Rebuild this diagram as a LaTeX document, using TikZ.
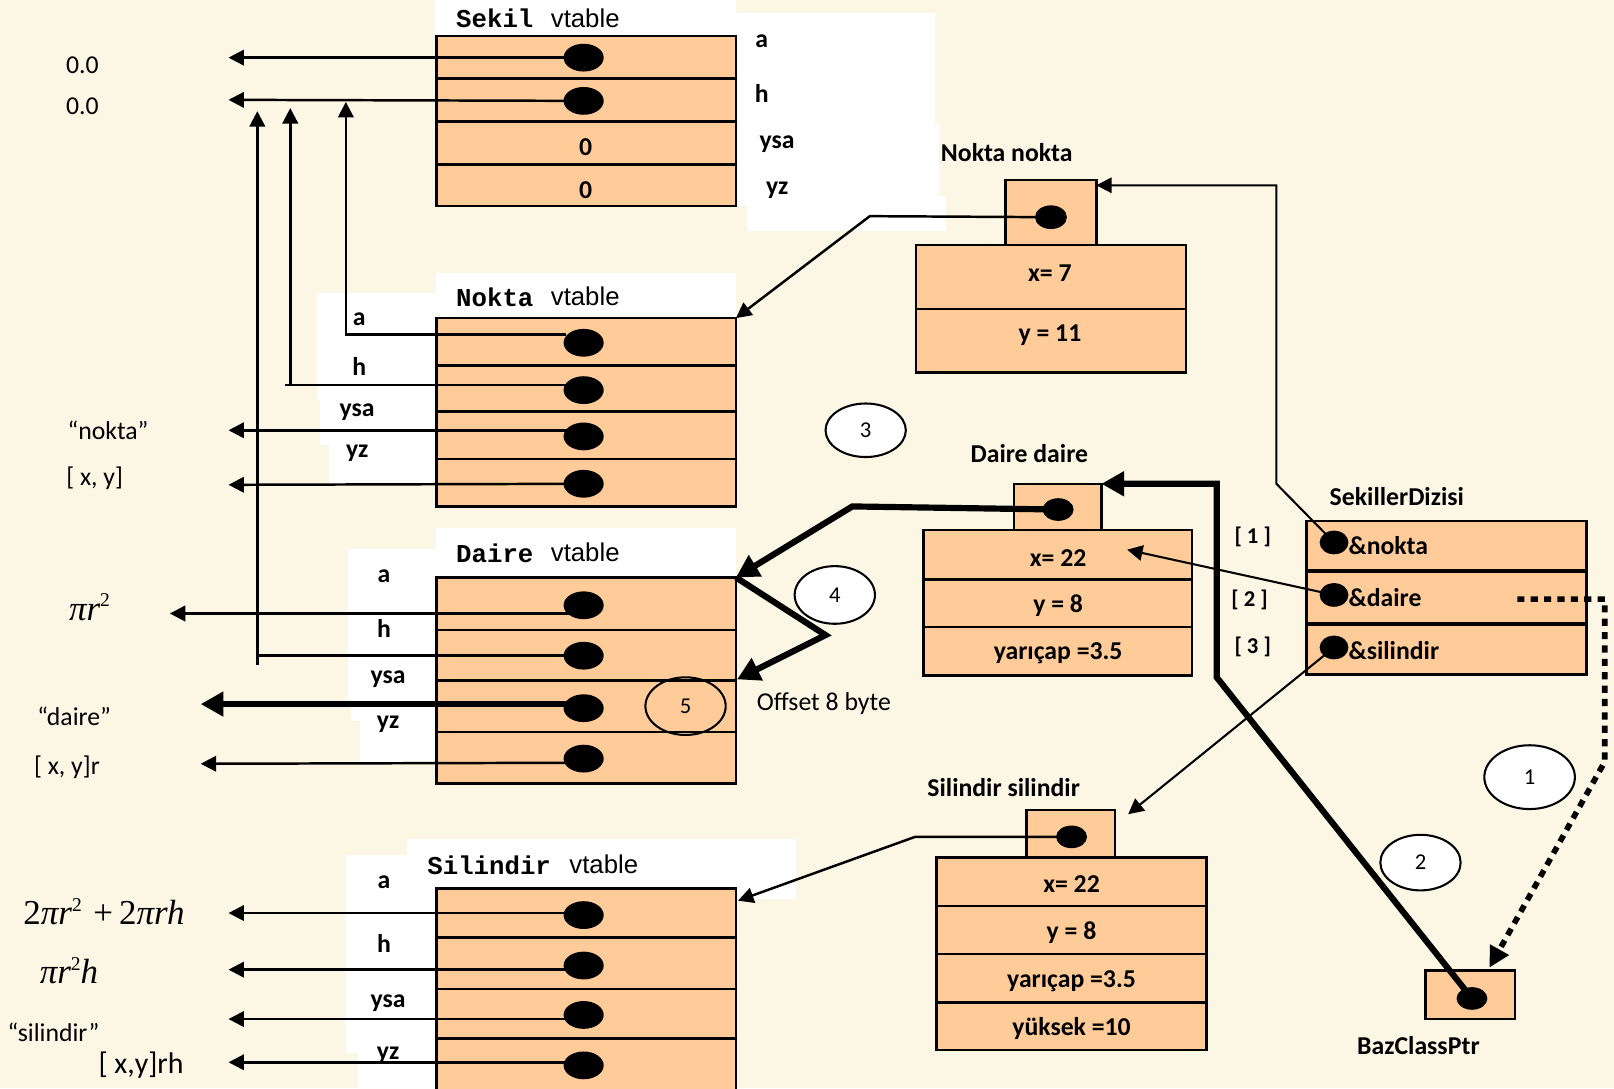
\documentclass[tikz,border=0pt]{standalone}
\usepackage{fontspec}
\setmainfont{Carlito}
\newfontfamily\courf{Liberation Mono}
\newfontfamily\arialf{Liberation Sans}
\newfontfamily\timesf{Liberation Serif}
\usetikzlibrary{arrows.meta,shapes.geometric}
\definecolor{cream}{RGB}{252,246,228}
\definecolor{peach}{RGB}{255,204,153}
\newcommand\sqtwo{\raisebox{13pt}{\fontsize{19}{19}\selectfont\upshape 2}}
\tikzset{
  vbox/.style={draw, line width=2.5pt, fill=peach, inner sep=0pt, outer sep=0pt, anchor=north west},
  sepl/.style={line width=2.5pt},
  sepk/.style={line width=4pt},
  bdot/.style={ellipse, fill=black, inner sep=0pt, minimum width=39pt, minimum height=27pt},
  sdot/.style={ellipse, fill=black, inner sep=0pt, minimum width=31pt, minimum height=23pt},
  ln/.style={line width=2.4pt},
  ar/.style={line width=2.4pt, -{Triangle[length=15pt,width=15pt]}},
  thk/.style={line width=6pt, -{Triangle[length=22pt,width=23pt]}},
  dotl/.style={line width=5.5pt, dash pattern=on 7pt off 6pt, -{Triangle[length=20pt,width=20pt]}},
  lab/.style={font=\fontsize{25}{28}\selectfont\bfseries, inner sep=0pt},
  txt/.style={font=\fontsize{25}{30}\selectfont, inner sep=0pt},
  mth/.style={font=\fontsize{34}{40}\selectfont\timesf\itshape, inner sep=0pt},
  cour/.style={font=\fontsize{25}{30}\selectfont\courf\bfseries, inner sep=0pt, anchor=west},
  vtl/.style={font=\fontsize{25}{30}\selectfont\arialf, inner sep=0pt, anchor=west},
  num/.style={ellipse, draw, line width=2pt, fill=white, font=\fontsize{22}{26}\selectfont, inner sep=0pt},
}
\begin{document}
\begin{tikzpicture}[x=1pt,y=-1pt]
\useasboundingbox (0,0) rectangle (1568,1057);
\fill[cream] (0,0) rectangle (1568,1057);
% white text-box backgrounds
\fill[white] (423,0) rectangle (715,36);
\fill[white] (715,13) rectangle (908,200);
\fill[white] (715,120) rectangle (912,200);
\fill[white] (726,190) rectangle (919,224);
\fill[white] (424,265) rectangle (715,309);
\fill[white] (308,285) rectangle (424,388);
\fill[white] (311,388) rectangle (424,432);
\fill[white] (320,432) rectangle (424,470);
\fill[white] (424,513) rectangle (715,562);
\fill[white] (338,533) rectangle (424,680);
\fill[white] (341,680) rectangle (424,700);
\fill[white] (350,700) rectangle (424,740);
\fill[white] (395,815) rectangle (773,873);
\fill[white] (336,831) rectangle (424,1023);
\fill[white] (348,1023) rectangle (424,1057);

% vtables
\node[vbox, minimum width=291pt, minimum height=165pt] (sekil) at (424,35) {};
\draw[sepl] (424,76) -- (715,76) (424,118) -- (715,118) (424,160) -- (715,160);
\node[vbox, minimum width=291pt, minimum height=183pt] (nokta) at (424,309) {};
\draw[sepl] (424,355) -- (715,355) (424,400) -- (715,400) (424,446) -- (715,446);
\node[vbox, minimum width=291pt, minimum height=200pt] (daire) at (424,561) {};
\draw[sepl] (424,612) -- (715,612) (424,661) -- (715,661) (424,711) -- (715,711);
\node[vbox, minimum width=291pt, minimum height=205pt] (silv) at (424,863) {};
\draw[sepl] (424,911) -- (715,911) (424,961) -- (715,961) (424,1009) -- (715,1009);

% objects
\node[vbox, minimum width=88pt, minimum height=63pt] (nn) at (977,175) {};
\node[vbox, minimum width=262pt, minimum height=124pt] (nnb) at (890,238) {};
\draw[sepl] (890,300) -- (1152,300);
\node[vbox, minimum width=85pt, minimum height=45pt] (dd) at (985,470) {};
\node[vbox, minimum width=261pt, minimum height=141pt] (ddb) at (897,515) {};
\draw[sepl] (897,563) -- (1158,563) (897,609) -- (1158,609);
\node[vbox, minimum width=86pt, minimum height=46pt] (ss) at (997,787) {};
\node[vbox, minimum width=262pt, minimum height=187pt] (ssb) at (910,833) {};
\draw[sepl] (910,880) -- (1172,880) (910,927) -- (1172,927) (910,974) -- (1172,974);
\node[vbox, minimum width=272pt, minimum height=149pt] (sdz) at (1269,506) {};
\draw[sepk] (1269,555) -- (1541,555) (1269,606) -- (1541,606);
\node[vbox, minimum width=87pt, minimum height=47pt] (bcp) at (1385,943) {};

% texts in white areas
\node[cour] (t1) at (443,18) {Sekil};
\node[vtl] (t2) at (535,18) {vtable};
\node[cour] (t3) at (443,289) {Nokta};
\node[vtl] (t4) at (535,288) {vtable};
\node[cour] (t5) at (443,538) {Daire};
\node[vtl] (t6) at (535,537) {vtable};
\node[cour] (t7) at (415,841) {Silindir};
\node[vtl] (t8) at (553,840) {vtable};

\node[lab] (ra) at (740,40) {a};
\node[lab] (rh) at (740,91) {h};
\node[lab] (rysa) at (755,140) {ysa};
\node[lab] (ryz) at (755,185) {yz};
\node[lab] (z1) at (569,143) {0};
\node[lab] (z2) at (569,185) {0};

\node[lab] (na) at (349,310) {a};
\node[lab] (nh) at (349,356) {h};
\node[lab] (nysa) at (347,400) {ysa};
\node[lab] (nyz) at (347,440) {yz};
\node[lab] (da) at (373,560) {a};
\node[lab] (dh) at (373,611) {h};
\node[lab] (dysa) at (377,660) {ysa};
\node[lab] (dyz) at (377,704) {yz};
\node[lab] (sa) at (373,857) {a};
\node[lab] (sh) at (373,917) {h};
\node[lab] (sysa) at (377,975) {ysa};
\node[lab] (syz) at (377,1025) {yz};

% left-side results
\node[txt] (r1) at (80,63) {0.0};
\node[txt] (r2) at (80,103) {0.0};
\node[txt] (r3) at (105,418) {“nokta”};
\node[txt] (r4) at (92,465) {[ x, y]};
\node[mth] (r5) at (87,590) {πr\sqtwo};
\node[txt] (r6) at (72,696) {“daire”};
\node[txt] (r7) at (65,745) {[ x, y]r};
\node[mth] (r8) at (101,886) {{\upshape 2}πr\sqtwo\,\,{\upshape +}\,{\upshape 2}πrh};
\node[mth] (r9) at (67,943) {πr\sqtwo h};
\node[txt] (r10) at (52,1003) {“silindir”};
\node[txt, font=\fontsize{29}{32}\selectfont] (r11) at (137,1035) {[ x,y]rh};

% object labels
\node[lab] (l1) at (978,148) {Nokta nokta};
\node[lab] (l2) at (1020,265) {x= 7};
\node[lab] (l3) at (1020,326) {y = 11};
\node[lab] (l4) at (1000,441) {Daire daire};
\node[lab] (l5) at (1028,542) {x= 22};
\node[lab] (l6) at (1028,588) {y = 8};
\node[lab] (l7) at (1028,635) {yarıçap =3.5};
\node[lab] (l8) at (975,765) {Silindir silindir};
\node[lab] (l9) at (1041,859) {x= 22};
\node[lab] (l10) at (1041,906) {y = 8};
\node[lab] (l11) at (1041,953) {yarıçap =3.5};
\node[lab] (l12) at (1041,999) {yüksek =10};
\node[lab] (l13) at (1357,482) {SekillerDizisi};
\node[lab, anchor=west] (l14) at (1310,530) {\&nokta};
\node[lab, anchor=west] (l15) at (1310,581) {\&daire};
\node[lab, anchor=west] (l16) at (1310,632) {\&silindir};
\node[lab, font=\fontsize{22}{26}\selectfont\bfseries] (i1) at (1217,522) {[ 1 ]};
\node[lab, font=\fontsize{22}{26}\selectfont\bfseries] (i2) at (1214,583) {[ 2 ]};
\node[lab, font=\fontsize{22}{26}\selectfont\bfseries] (i3) at (1217,628) {[ 3 ]};
\node[lab] (l17) at (1378,1016) {BazClassPtr};
\node[txt, anchor=west] (off) at (735,684) {Offset 8 byte};

% dots
\node[bdot] (sk1) at (567,56) {};
\node[bdot] (sk2) at (567,98) {};
\node[bdot] (nk1) at (567,333) {};
\node[bdot] (nk2) at (567,379) {};
\node[bdot] (nk3) at (567,424) {};
\node[bdot] (nk4) at (567,470) {};
\node[bdot] (da1) at (567,588) {};
\node[bdot] (da2) at (567,637) {};
\node[bdot] (da3) at (567,688) {};
\node[bdot] (da4) at (567,737) {};
\node[bdot] (si1) at (567,889) {};
\node[bdot] (si2) at (567,938) {};
\node[bdot] (si3) at (567,986) {};
\node[bdot] (si4) at (567,1035) {};
\node[sdot] (nd) at (1021,211) {};
\node[sdot, minimum width=30pt, minimum height=22pt] (ddot) at (1028,495) {};
\node[sdot, minimum width=30pt, minimum height=22pt] (sdot1) at (1041,813) {};
\node[sdot, minimum width=30pt, minimum height=22pt] (bd) at (1430,970) {};
\node[sdot, minimum width=28pt, minimum height=23pt] (zd1) at (1296,527) {};
\node[sdot, minimum width=28pt, minimum height=23pt] (zd2) at (1296,578) {};
\node[sdot, minimum width=28pt, minimum height=23pt] (zd3) at (1296,629) {};

% arrow targets
\coordinate (tS1) at (222,56);
\coordinate (tS2) at (222,97);
\coordinate (tA) at (336,99);
\coordinate (tH) at (282,105);
\coordinate (tC) at (250,108);
\coordinate (tN3) at (222,418);
\coordinate (tN4) at (222,471);
\coordinate (tD1) at (165,596);
\coordinate (tD3) at (195,684);
\coordinate (tD4) at (195,742);
\coordinate (tI1) at (222,887);
\coordinate (tI2) at (222,942);
\coordinate (tI3) at (222,990);
\coordinate (tI4) at (222,1032);
\coordinate (tSil) at (717,875);
\coordinate (tX) at (1095,534);
\coordinate (tSS) at (1096,791);
\coordinate (tOff) at (716,660);
\coordinate (dst) at (1474,582);
\coordinate (tB) at (1447,940);

% vtable pointers
\draw[ar] (sk1.center) -- (tS1);
\draw[ar] (sk2.center) -- (tS2);
\draw[ar] ([xshift=-17pt,yshift=8pt]nk1.center) -| (tA);
\draw[ln] ([yshift=5pt]nk2.center) -- (277,374);
\draw[ar] (282,374) -- (tH);
\draw[ar] ([yshift=6pt]nk3.center) -- (tN3);
\draw[ar] (nk4.center) -- (tN4);
\draw[ar] ([yshift=-8pt]da1.center) -- (tD1);
\draw[ln] (da2.center) -- (250,637);
\draw[ar] (250,646) -- (tC);
\draw[thk] ([yshift=4pt]da3.center) -- (tD3);
\draw[ar] ([yshift=-4pt]da4.center) -- (tD4);
\draw[ar] ([yshift=2pt]si1.center) -- (tI1);
\draw[ar] ([yshift=-4pt]si2.center) -- (tI2);
\draw[ar] ([yshift=-4pt]si3.center) -- (tI3);
\draw[ar] ([yshift=3pt]si4.center) -- (tI4);

% object -> vtable pointers
\draw[ar] (nd.center) -- (845,210) -- (nokta.north east);
\draw[thk] (ddot.center) -- (828,492) -- (daire.north east);
\draw[thk] (daire.north east) -- (802,617) -- (tOff);
\draw[ar] (sdot1.center) -- (889,813) -- (tSil);

% array pointers
\draw[ar, line width=2pt] (zd1.center) -- (1240,470) -- (1240,180) -- ([yshift=-5pt]nn.north east);
\draw[ar, line width=2pt] (zd2.center) -- (tX);
\draw[ar, line width=2pt] (zd3.center) -- (tSS);
\draw[thk] (bd.center) -- (1182,658) -- (1182,470) -- (dd.north east);
\draw[dotl] (dst) -- (1559,582) -- (1559,740) -- (tB);

% step circles
\node[num, minimum width=78pt, minimum height=52pt] (c3) at (841,418) {3};
\node[num, minimum width=78pt, minimum height=56pt] (c4) at (811,578) {4};
\node[num, fill=none, minimum width=78pt, minimum height=56pt] (c5) at (666,686) {5};
\node[num, minimum width=78pt, minimum height=54pt] (c2) at (1380,838) {2};
\node[num, minimum width=88pt, minimum height=62pt] (c1) at (1486,755) {1};
\end{tikzpicture}
\end{document}
